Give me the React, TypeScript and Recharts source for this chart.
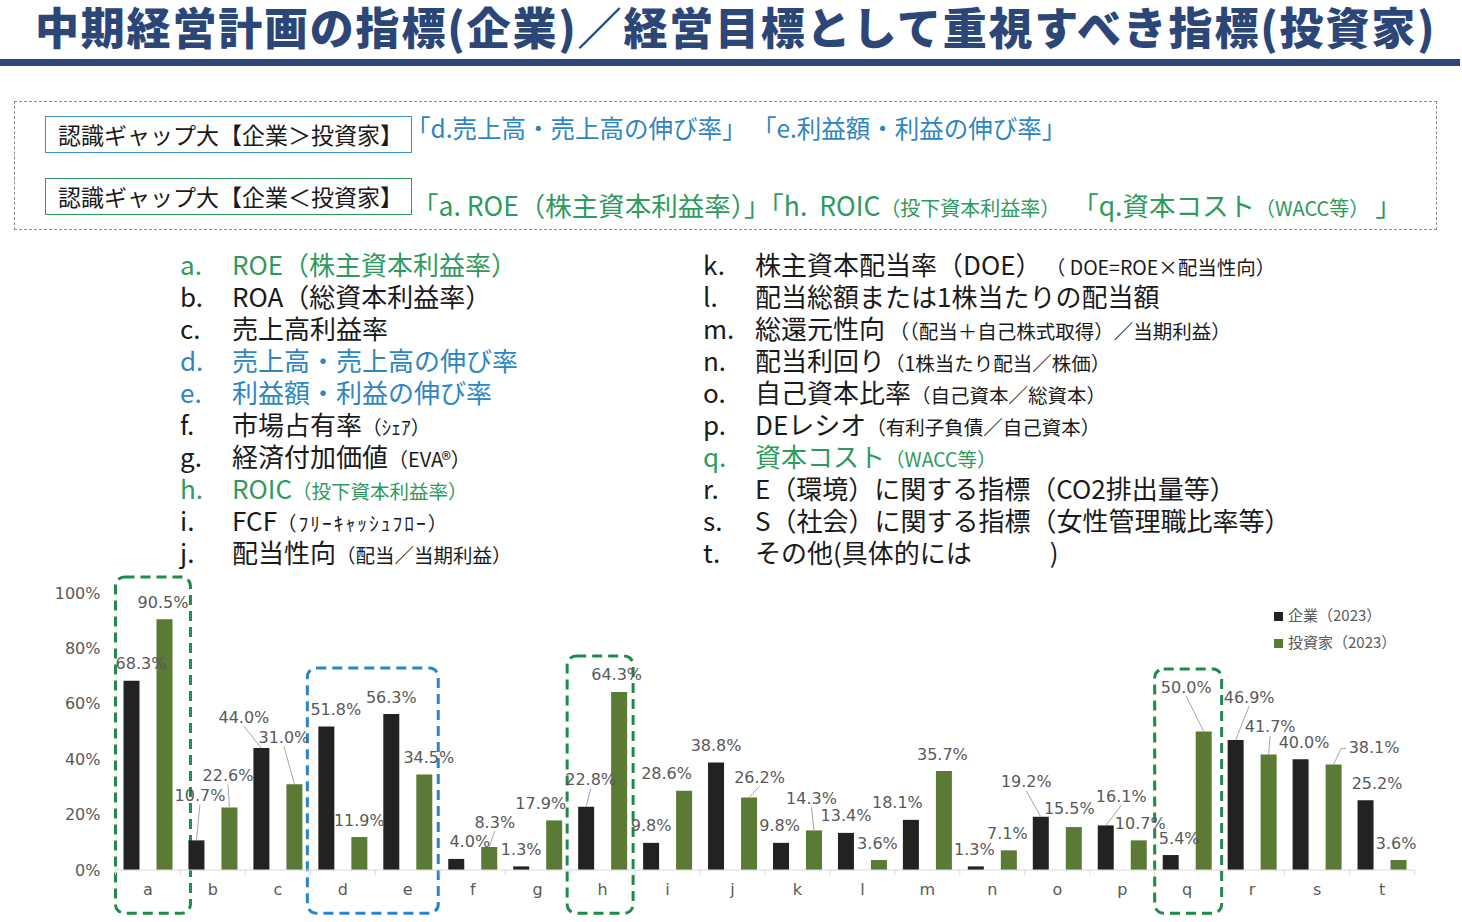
import React from "react";
import {
  BarChart,
  Bar,
  XAxis,
  YAxis,
  LabelList,
  ReferenceArea,
} from "recharts";

const categories = ["a", "b", "c", "d", "e", "f", "g", "h", "i", "j", "k", "l", "m", "n", "o", "p", "q", "r", "s", "t"];
// 企業（2023）
const kigyo = [68.3, 10.7, 44.0, 51.8, 56.3, 4.0, 1.3, 22.8, 9.8, 38.8, 9.8, 13.4, 18.1, 1.3, 19.2, 16.1, 5.4, 46.9, 40.0, 25.2];
// 投資家（2023）
const toshika = [90.5, 22.6, 31.0, 11.9, 34.5, 8.3, 17.9, 64.3, 28.6, 26.2, 14.3, 3.6, 35.7, 7.1, 15.5, 10.7, 50.0, 41.7, 38.1, 3.6];
const yTicks = [0, 20, 40, 60, 80, 100];
const seriesNames = ["企業（2023）", "投資家（2023）"];

const data = categories.map((c, i) => ({ cat: c, kigyo: kigyo[i], toshika: toshika[i] }));

// label nudges (dx, dy) like the hand-placed labels in the original
const kigyoShift = [
  [9.5, 0], [3.5, -28], [-17.5, -14], [9.5, 0], [0, 0], [13.5, 0], [0, 0], [4.5, -10], [0, 0], [0, 0],
  [-1.5, 0], [0, 0], [-13.5, 0], [-1.5, 0], [-14.5, -18], [15.5, -12], [8.5, 0], [13.5, -26], [3.5, 0], [11.5, 0],
];
const toshikaShift = [
  [-1.5, 0], [-1.5, -15], [-10.5, -30], [0, 0], [4.5, 0], [5.5, -8], [-13.5, 0], [-2.5, 0], [-17.5, 0], [10.5, -3],
  [-2.5, -15], [-1.5, 0], [-1.5, 0], [-1.5, 0], [-4.5, -2], [1.5, 0], [-17.5, -27.5], [1.5, -10.5], [40.5, 0], [-2.5, 0],
];

const GREEN_TXT = "#2e9a5e";
const BLUE_TXT = "#2e86c1";
const NAVY = "#2b4677";
const GRAY = "#595959";
const BAR_BLACK = "#222222";
const BAR_GREEN = "#5a7a35";

const leftItems = [
  { k: "a.", main: "ROE（株主資本利益率）", sub: "", color: GREEN_TXT },
  { k: "b.", main: "ROA（総資本利益率）", sub: "" },
  { k: "c.", main: "売上高利益率", sub: "" },
  { k: "d.", main: "売上高・売上高の伸び率", sub: "", color: BLUE_TXT },
  { k: "e.", main: "利益額・利益の伸び率", sub: "", color: BLUE_TXT },
  { k: "f.", main: "市場占有率", sub: "（ｼｪｱ）" },
  { k: "g.", main: "経済付加価値", sub: "（EVA®）", subSize: 20 },
  { k: "h.", main: "ROIC", sub: "（投下資本利益率）", color: GREEN_TXT },
  { k: "i.", main: "FCF", sub: "（ﾌﾘｰｷｬｯｼｭﾌﾛｰ）", subSpacing: 2 },
  { k: "j.", main: "配当性向", sub: "（配当／当期利益）" },
];
const rightItems = [
  { k: "k.", main: "株主資本配当率（DOE）", sub: " （ DOE=ROE×配当性向）" },
  { k: "l.", main: "配当総額または1株当たりの配当額", sub: "" },
  { k: "m.", main: "総還元性向", sub: " （（配当＋自己株式取得）／当期利益）" },
  { k: "n.", main: "配当利回り", sub: "（1株当たり配当／株価）" },
  { k: "o.", main: "自己資本比率", sub: "（自己資本／総資本）" },
  { k: "p.", main: "DEレシオ", sub: "（有利子負債／自己資本）" },
  { k: "q.", main: "資本コスト", sub: "（WACC等）", color: GREEN_TXT },
  { k: "r.", main: "E（環境）に関する指標（CO2排出量等）", sub: "" },
  { k: "s.", main: "S（社会）に関する指標（女性管理職比率等）", sub: "" },
  { k: "t.", main: "その他(具体的には　　　)", sub: "" },
];

const jp = "'Noto Sans CJK JP', 'Noto Sans', sans-serif";
const latin = "'DejaVu Sans', Verdana, sans-serif";

function makeLabel(shifts: number[][]) {
  return (props: any) => {
    const { x, y, width, value } = props;
    let idx = props.index;
    if (idx === undefined) idx = categories.indexOf(props.payload?.cat);
    const [dx, dy] = shifts[idx] || [0, 0];
    const cx = Number(x) + Number(width) / 2;
    const top = Number(y);
    const lx = cx + dx;
    const ly = top - 17 + dy;
    let leader = null;
    if (dy <= -3) {
      leader = <line x1={cx} y1={top} x2={lx} y2={ly + 9} stroke="#a6a6a6" strokeWidth={1} />;
    } else if (dx >= 30) {
      leader = <polyline points={`${cx},${top} ${lx - 33},${ly + 1} ${lx - 28},${ly + 1}`} fill="none" stroke="#a6a6a6" strokeWidth={1} />;
    }
    return (
      <g>
        {leader}
        <text x={lx} y={ly} textAnchor="middle" dominantBaseline="central" fontSize={16} fontFamily={latin} fill={GRAY}>
          {Number(value).toFixed(1)}%
        </text>
      </g>
    );
  };
}

const boxes = [
  { x1: "a", x2: "a", top: 105.8, color: "#1f8a4c", padL: 0, padR: 10 },
  { x1: "d", x2: "e", top: 72.9, color: "#2b86c5", padL: -3, padR: -2 },
  { x1: "h", x2: "h", top: 77.3, color: "#1f8a4c", padL: -3, padR: -2 },
  { x1: "q", x2: "q", top: 72.6, color: "#1f8a4c", padL: 0, padR: 2 },
];

function DashedBox(props: any) {
  const { x, y, width, height, padL, padR, color } = props;
  return (
    <rect
      x={x + padL}
      y={y}
      width={width - padL + padR}
      height={height}
      rx={9}
      ry={9}
      fill="none"
      stroke={color}
      strokeWidth={3}
      strokeDasharray="10 6"
    />
  );
}

// x-axis tick: letter plus a small mark at the left category boundary (Excel style)
function CatTick(props: any) {
  const { x, y, payload, index } = props;
  const half = 32.5;
  const axisY = y - 14;
  return (
    <g>
      <line x1={x - half} y1={axisY} x2={x - half} y2={axisY + 5} stroke="#d9d9d9" />
      {index === categories.length - 1 && (
        <line x1={x + half} y1={axisY} x2={x + half} y2={axisY + 5} stroke="#d9d9d9" />
      )}
      <text x={x} y={y} dy="0.71em" textAnchor="middle" fontSize={16} fontFamily={latin} fill={GRAY}>
        {payload.value}
      </text>
    </g>
  );
}

function ListColumn({ items, left }: { items: any[]; left: number }) {
  return (
    <>
      {items.map((it, i) => (
        <div
          key={it.k}
          style={{
            position: "absolute",
            left,
            top: 248 + 32 * i,
            height: 32,
            lineHeight: "32px",
            fontSize: 26,
            whiteSpace: "nowrap",
            color: it.color || "#1a1a1a",
          }}
        >
          <span style={{ display: "inline-block", width: 52 }}>{it.k}</span>
          <span>{it.main}</span>
          {it.sub && (
            <span style={{ fontSize: it.subSize || 19.5, letterSpacing: it.subSpacing || 0 }}>{it.sub}</span>
          )}
        </div>
      ))}
    </>
  );
}

export default function App() {
  return (
    <div style={{ position: "absolute", left: 0, top: 0, width: 1462, height: 922, background: "#fff", fontFamily: jp, overflow: "hidden" }}>
      <div style={{ position: "absolute", left: 35, top: 2, lineHeight: "48px", fontSize: 44, fontWeight: 900, color: NAVY, whiteSpace: "nowrap", letterSpacing: 1.8 }}>
        中期経営計画の指標(企業)／経営目標として重視すべき指標(投資家)
      </div>
      <div style={{ position: "absolute", left: 0, top: 59, width: 1460, height: 7, background: NAVY }} />

      <div style={{ position: "absolute", left: 14, top: 101, width: 1421, height: 127, border: "1px dashed #8c8c8c" }} />
      <div style={{ position: "absolute", left: 45, top: 116, width: 353, height: 35, border: "1.5px solid #3d8fd0", fontSize: 23, lineHeight: "35px", paddingLeft: 12, boxSizing: "content-box", whiteSpace: "nowrap", color: "#1a1a1a" }}>
        認識ギャップ大【企業＞投資家】
      </div>
      <div style={{ position: "absolute", left: 406, top: 110, lineHeight: "36px", fontSize: 24.5, color: BLUE_TXT, whiteSpace: "nowrap" }}>
        「d.売上高・売上高の伸び率」 「e.利益額・利益の伸び率」
      </div>
      <div style={{ position: "absolute", left: 45, top: 178, width: 353, height: 35, border: "1.5px solid #2e9a5e", fontSize: 23, lineHeight: "35px", paddingLeft: 12, boxSizing: "content-box", whiteSpace: "nowrap", color: "#1a1a1a" }}>
        認識ギャップ大【企業＜投資家】
      </div>
      <div style={{ position: "absolute", left: 412, top: 187, lineHeight: "36px", fontSize: 26.5, color: GREEN_TXT, whiteSpace: "pre" }}>
        {"「a. ROE（株主資本利益率）」「h.  ROIC"}
        <span style={{ fontSize: 20 }}>（投下資本利益率）</span>
        {"  「q.資本コスト"}
        <span style={{ fontSize: 20 }}>（WACC等）</span>
        {" 」"}
      </div>

      <ListColumn items={leftItems} left={180} />
      <ListColumn items={rightItems} left={703} />

      <div style={{ position: "absolute", left: 0, top: 560 }}>
        <BarChart
          width={1462}
          height={362}
          data={data}
          margin={{ top: 33, right: 47.5, bottom: 22, left: 15.5 }}
          barGap={17}
        >
          <XAxis
            dataKey="cat"
            axisLine={{ stroke: "#d9d9d9" }}
            tickLine={false}
            tickMargin={8}
            interval={0}
            tick={<CatTick />}
          />
          <YAxis
            width={100}
            domain={[0, 100]}
            ticks={yTicks}
            tickFormatter={(v) => `${v}%`}
            axisLine={false}
            tickLine={false}
            tickMargin={9}
            tick={{ fill: GRAY, fontSize: 16, fontFamily: latin }}
          />
          {boxes.map((b, i) => (
            <ReferenceArea
              key={i}
              x1={b.x1}
              x2={b.x2}
              y1={-15.6}
              y2={b.top}
              ifOverflow="visible"
              shape={(p: any) => <DashedBox {...p} padL={b.padL} padR={b.padR} color={b.color} />}
            />
          ))}
          <Bar dataKey="kigyo" name={seriesNames[0]} fill={BAR_BLACK} barSize={16} isAnimationActive={false}>
            <LabelList dataKey="kigyo" content={makeLabel(kigyoShift)} />
          </Bar>
          <Bar dataKey="toshika" name={seriesNames[1]} fill={BAR_GREEN} barSize={16} isAnimationActive={false}>
            <LabelList dataKey="toshika" content={makeLabel(toshikaShift)} />
          </Bar>
        </BarChart>
      </div>

      {seriesNames.map((n, i) => (
        <div key={n} style={{ position: "absolute", left: 1274, top: 604 + 27 * i, lineHeight: "22px", fontSize: 15, color: GRAY, whiteSpace: "nowrap" }}>
          <span style={{ display: "inline-block", width: 9, height: 9, background: i === 0 ? BAR_BLACK : BAR_GREEN, marginRight: 5 }} />
          {n}
        </div>
      ))}
    </div>
  );
}
